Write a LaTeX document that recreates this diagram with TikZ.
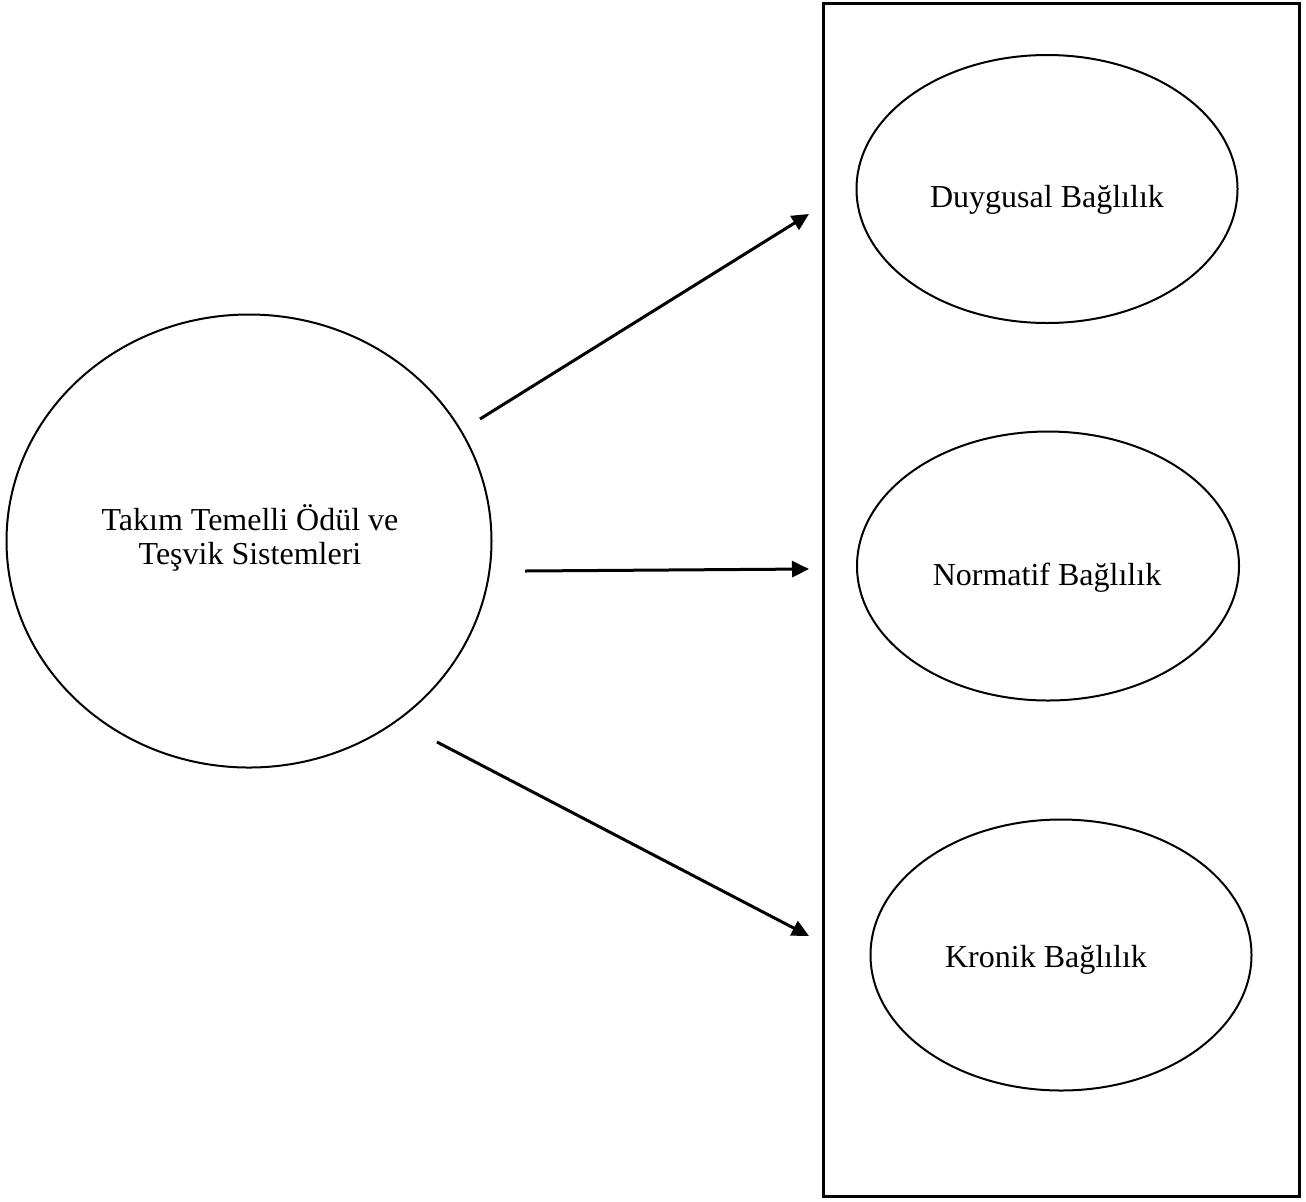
\documentclass[tikz,border=0pt]{standalone}
\usepackage{fontspec}
\setmainfont{Liberation Serif}
\usetikzlibrary{arrows.meta,shapes.geometric}
\begin{document}
\begin{tikzpicture}[x=0.5pt,y=-0.5pt,
  oval/.style={draw,ellipse,line width=1pt,inner sep=0pt},
  lbl/.style={font=\fontsize{16}{16}\selectfont,inner sep=0pt,align=center},
  arr/.style={line width=1.5pt,-{Triangle[length=8.5pt,width=8pt]}}]
\useasboundingbox (0,0) rectangle (1306,1201);
\draw[line width=1.5pt] (823,3) rectangle (1299,1196);
\node[oval,minimum width=242.5pt,minimum height=226.5pt] (src) at (249,541) {};
\node[oval,minimum width=190.5pt,minimum height=134pt] (e1) at (1047,189) {};
\node[oval,minimum width=191pt,minimum height=134.5pt] (e2) at (1048,566) {};
\node[oval,minimum width=190.5pt,minimum height=135.5pt] (e3) at (1061,955) {};
\node[lbl] (t0) at (250,538) {Takım Temelli Ödül ve\\[1pt]Teşvik Sistemleri};
\node[lbl] (t1) at (1047,200) {Duygusal Bağlılık};
\node[lbl] (t2) at (1047,578) {Normatif Bağlılık};
\node[lbl] (t3) at (1046,960) {Kronik Bağlılık};
\coordinate (s1) at (480,419);
\coordinate (s2) at (525,571);
\coordinate (s3) at (437,742);
\coordinate (d1) at (809,214);
\coordinate (d2) at (809,569);
\coordinate (d3) at (809,936);
\draw[arr] (s1) -- (d1);
\draw[arr] (s2) -- (d2);
\draw[arr] (s3) -- (d3);
\end{tikzpicture}
\end{document}
